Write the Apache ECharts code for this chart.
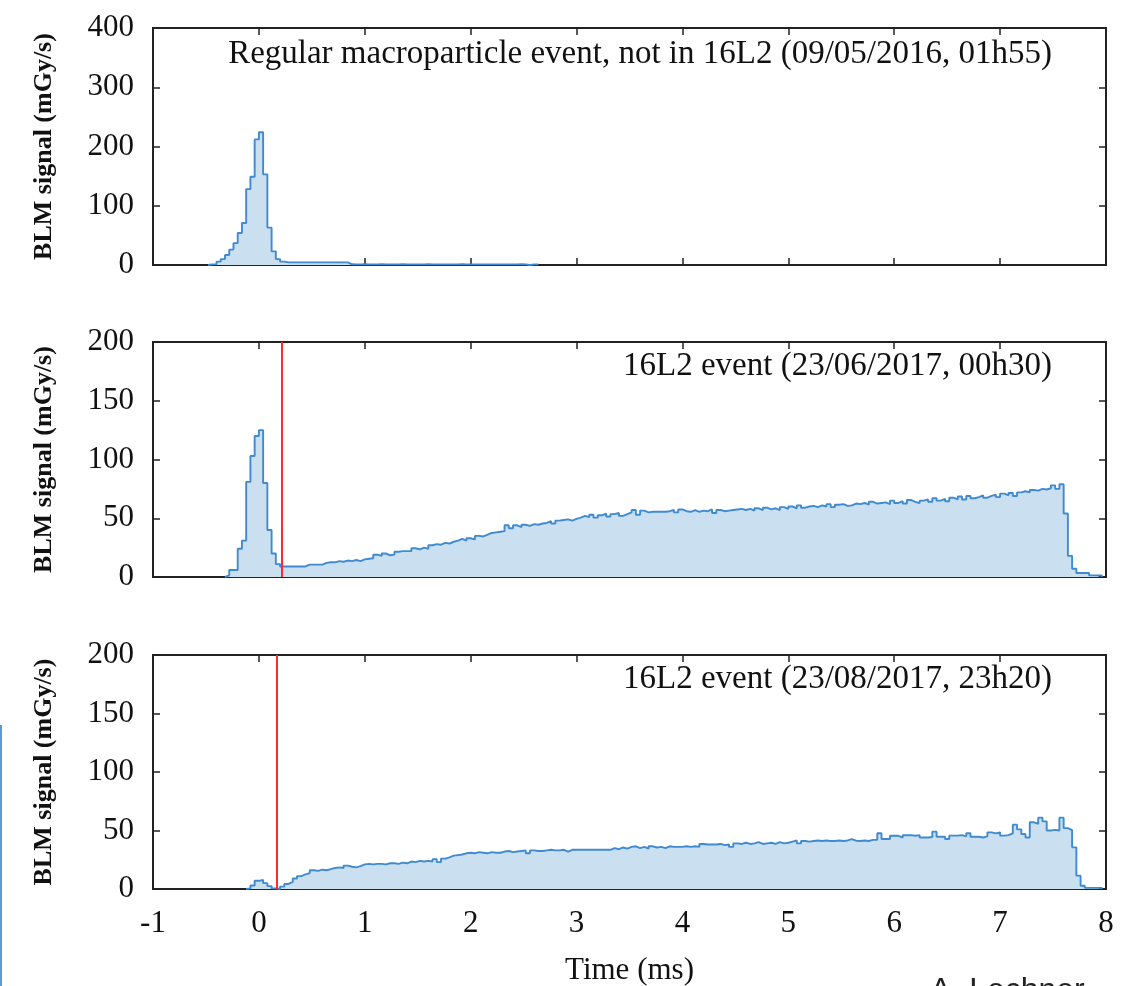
<!DOCTYPE html>
<html><head><meta charset="utf-8">
<script src="https://cdn.jsdelivr.net/npm/echarts@6/dist/echarts.min.js"></script>
<style>html,body{margin:0;padding:0;background:#fff}#c{width:1134px;height:986px}</style>
</head><body><div id="c"></div>
<script>
// ---- data ----
const binWidth = 0.04; // ms (40 us running sum)
const panelTitles = [
  'Regular macroparticle event, not in 16L2 (09/05/2016, 01h55)',
  '16L2 event (23/06/2017, 00h30)',
  '16L2 event (23/08/2017, 23h20)'
];
const yMaxes = [400, 200, 200];
const yIntervals = [100, 50, 50];
const xMin = -1, xMax = 8, xInterval = 1;
const yAxisTitle = 'BLM signal (mGy/s)';
const xAxisTitle = 'Time (ms)';
const triggerTimes = [null, 0.22, 0.167];

const start1 = -0.48;
const signal1 = [1, 1, 5.7, 10, 17, 26, 37, 54, 71, 128, 149, 212, 224, 153, 63, 23, 10, 5.7,
  4.5, 4.5, 4.5, 4.5, 4.5, 4.5, 4.5, 4.5, 4.5, 4.5, 4.5, 4.5, 4.5, 4.5, 4.5,
  1.2, 1, 1, 1.2, 1, 1, 1, 1.2, 1, 1, 1, 1, 1.2, 1, 1, 1, 1, 1, 1.2, 1, 1, 1, 1,
  1, 1, 1, 1.2, 1, 1, 1, 1, 1, 1, 1, 1, 1, 1, 1, 1, 1, 1.2, 1, 0, 1, 1];

const start2 = -0.32;
const signal2 = [1.4, 6, 6, 24, 31, 81, 103, 120, 125, 80, 40, 20, 11,
  9, 9, 9, 9, 9, 9,
  10.5, 10.5, 10.5, 10.5,
  12, 12.5, 12.5,
  13.5, 13, 14, 13.5, 14.5, 13.5,
  15, 15.5, 16,
  19, 18, 20, 18.5, 19,
  21.5, 22, 22, 22,
  24.5, 23.5, 25, 24,
  27, 28, 27.5, 29, 28.5, 30,
  31, 32.5, 31, 33, 32,
  35, 34.5, 36,
  37.5, 38, 38.5, 39,
  44, 41.5, 44, 42.5,
  44.5, 43.5, 45, 44.5, 45.5,
  46, 47.5, 45.5, 48,
  48.5, 49, 48, 49.5, 50.5,
  52, 51, 53, 50.5,
  52.5, 54, 51.5, 53.5, 54.5, 52, 53.5,
  55, 57, 53, 56.5, 55,
  55.5, 55.5, 55.5, 55.5,
  56, 57, 55, 57.5, 56, 55.5, 57, 55.5,
  56.5, 56, 57.5, 54.5, 57, 56,
  56.5, 57, 57.5, 58, 57, 58, 56.5, 58.5,
  57, 59, 57.5, 58.5, 57, 59.5, 58,
  60, 58.5, 61, 59, 60, 60.5, 59.5, 61,
  60, 62, 59.5, 61.5, 62, 60.5, 61, 62.5,
  62, 63, 61.5, 64, 62.5, 63,
  63.5, 62, 65, 63, 64.5, 62.5, 65.5, 64, 63, 65,
  66, 64, 67, 65, 66.5, 64.5, 67.5,
  66, 68.5, 66, 69, 67, 68, 69.5, 67.5, 69,
  70, 68, 71, 69.5, 71.5, 69, 72,
  73, 72, 74, 73.5, 75, 74.5, 75.5,
  78, 75, 79,
  54, 18, 7, 3.4, 3.4, 3.4, 1.4, 1.4, 1.4];

const start3 = -0.12;
const signal3 = [0.5, 3, 7, 7.7, 5, 2.5, 0.5, 0, 2, 4.3, 6, 9, 11, 12.5, 13.5,
  16, 15.5, 16.5, 16, 17,
  18, 18.5, 18,
  20, 19, 18.5, 19.5,
  21, 21.5, 21, 21.5, 21.5, 21,
  22, 22, 21.5, 22.5, 22,
  23.5, 23, 24, 23.5, 24, 23.5,
  25.5, 23,
  26, 27,
  28.5, 29, 29.5,
  30.5, 31, 30.5, 31.5, 31, 30.5, 31.5, 31, 31,
  32, 32.5, 31.5, 32, 32.5, 33, 30.5, 33, 32.5, 32.5,
  33, 33.5, 33, 33, 33.5, 32, 33.5, 33.5, 33.5, 33.5, 33.5, 33.5, 33.5, 33.5, 33.5, 33.5,
  35, 34, 35.5, 34.5, 36, 36.5, 35, 36, 34.5, 36.5, 35.5, 36, 35, 36.5, 36, 36,
  36, 36.5, 36, 36.5, 36,
  38.5, 38, 38,
  38, 38.5, 37.5, 38, 36,
  39, 38.5, 39.5, 38.5, 39, 40, 38.5, 39, 39.5, 38.5, 40, 39, 39.5,
  40.5, 41.5, 39, 41, 40.5,
  41, 41.5, 41, 41.5, 41, 41, 41.5, 41, 41.5, 42.7,
  41.3, 41, 41.5, 41, 42, 42,
  47.6,
  42.7, 42.7,
  45.5, 45.5, 44, 46, 46, 45.5, 46, 44, 44, 44.5,
  49,
  44.7, 44.7, 42.7,
  45.6, 45.6, 46, 45, 47.6,
  44.7, 44.7, 44, 45,
  48.4, 47.5, 48.4,
  45.6, 46, 47.6,
  55, 51, 47, 44, 57, 55.6, 61, 57.8,
  50, 50.5,
  50, 61, 52, 50.4, 35.6, 11.4, 2.8, 1, 1, 1, 1];

const starts = [start1, start2, start3];
const signals = [signal1, signal2, signal3];

// ---- build ----
const SERIF = '"Liberation Serif", "DejaVu Serif", serif';
const lineColor = '#3f8ad0';
const fillColor = '#cadff0';
const frameColor = '#222';

function toSteps(start, vals) {
  const pts = [[start, 0]];
  vals.forEach((v, i) => pts.push([+(start + i * binWidth).toFixed(4), v]));
  pts.push([+(start + vals.length * binWidth).toFixed(4), 0]);
  return pts;
}

const grids = [
  {left: 153, top: 28, width: 953, height: 237},
  {left: 153, top: 342, width: 953, height: 235},
  {left: 153, top: 655, width: 953, height: 234}
].map(g => Object.assign(g, {show: true, borderColor: frameColor, borderWidth: 2,
  backgroundColor: 'transparent', containLabel: false, outerBoundsMode: 'none'}));

const tick = {show: true, inside: true, length: 7, lineStyle: {color: frameColor, width: 1.5}};
const noLine = {show: false, onZero: false};
const xAxes = [], yAxes = [];
for (let i = 0; i < 3; i++) {
  xAxes.push({
    type: 'value', gridIndex: i, min: xMin, max: xMax, interval: xInterval, position: 'bottom',
    axisLine: noLine, axisTick: tick, splitLine: {show: false},
    axisLabel: {show: i === 2, fontSize: 31, fontFamily: SERIF, color: '#111', margin: 19},
    name: i === 2 ? xAxisTitle : '', nameLocation: 'middle', nameGap: 66,
    nameTextStyle: {fontSize: 31, fontFamily: SERIF, color: '#111'}
  });
  yAxes.push({
    type: 'value', gridIndex: i, min: 0, max: yMaxes[i], interval: yIntervals[i], position: 'left',
    axisLine: noLine, axisTick: tick, splitLine: {show: false},
    axisLabel: {fontSize: 31, fontFamily: SERIF, color: '#111', margin: 19},
    name: yAxisTitle, nameLocation: 'middle', nameGap: 96,
    nameTextStyle: {fontSize: 26, fontFamily: SERIF, fontWeight: 'bold', color: '#111'}
  });
}
for (let i = 0; i < 3; i++) {
  xAxes.push({type: 'value', gridIndex: i, min: xMin, max: xMax, interval: xInterval, position: 'top',
    axisLine: noLine, axisTick: tick, axisLabel: {show: false}, splitLine: {show: false}});
  yAxes.push({type: 'value', gridIndex: i, min: 0, max: yMaxes[i], interval: yIntervals[i], position: 'right',
    axisLine: noLine, axisTick: tick, axisLabel: {show: false}, splitLine: {show: false}});
}

const series = signals.map((vals, i) => {
  const s = {
    type: 'line', xAxisIndex: i, yAxisIndex: i, step: 'end', symbol: 'none', silent: true,
    data: toSteps(starts[i], vals),
    lineStyle: {color: lineColor, width: 1.9},
    areaStyle: {color: fillColor, opacity: 1},
    z: 2
  };
  if (triggerTimes[i] !== null) {
    s.markLine = {symbol: 'none', silent: true, label: {show: false},
      lineStyle: {color: '#ff2a2a', width: 2, type: 'solid'},
      data: [{xAxis: triggerTimes[i]}]};
  }
  return s;
});

const titleTops = [38, 350, 663];
const graphic = panelTitles.map((t, i) => ({
  type: 'text', right: 82, top: titleTops[i], z: 10,
  style: {text: t, font: '33px ' + SERIF, fill: '#111'}
}));
graphic.push({type: 'text', left: 930, top: 975, z: 10,
  style: {text: 'A. Lechner', font: '32px "Liberation Sans", sans-serif', fill: '#222'}});
graphic.push({type: 'line', z: 10, shape: {x1: 1, y1: 725, x2: 1, y2: 986},
  style: {stroke: '#5b9bd5', lineWidth: 2}});

const chart = echarts.init(document.getElementById('c'), null, {renderer: 'canvas'});
chart.setOption({
  animation: false,
  backgroundColor: '#fff',
  grid: grids,
  xAxis: xAxes,
  yAxis: yAxes,
  series: series,
  graphic: graphic
});
</script></body></html>
